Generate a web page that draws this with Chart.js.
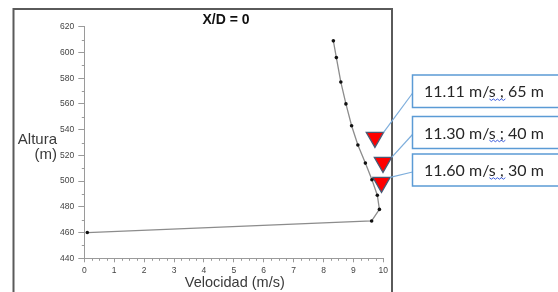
<!DOCTYPE html>
<html>
<head>
<meta charset="utf-8">
<script src="https://cdn.jsdelivr.net/npm/chart.js@4"></script>
<style>
  html, body { margin: 0; padding: 0; background: #fff; }
  #grafico { display: block; }
</style>
</head>
<body>
<canvas id="grafico" width="558" height="292"></canvas>
<script>
// perfil de velocidad
const velocidad = [0.1, 9.61, 9.87, 9.80, 9.62, 9.40, 9.15, 8.94, 8.75, 8.58, 8.43, 8.33];
const altura = [460, 469, 478, 489, 501, 514, 528, 543, 560, 577, 596, 609];

// marcadores (triangulos rojos) y sus etiquetas
const marcaVel = [9.72, 9.99, 9.94];
const marcaAlt = [534, 514.5, 499];
const etiquetas = ['11.11 m/s ; 65 m', '11.30 m/s ; 40 m', '11.60 m/s ; 30 m'];

const ejeX = { min: 0, max: 10, paso: 1, menor: 0.25 };
const ejeY = { min: 440, max: 620, paso: 20, menor: 10 };

const perfil = velocidad.map((v, i) => ({ x: v, y: altura[i] }));
const marcas = marcaVel.map((v, i) => ({ x: v, y: marcaAlt[i] }));

const radioTri = 10;

// cajas de texto a la derecha
const cajas = [
  { top: 75, bottom: 107.5 },
  { top: 116.5, bottom: 148.5 },
  { top: 154, bottom: 186 }
];

const extras = {
  id: 'extras',
  beforeDraw(chart) {
    const c = chart.ctx;
    c.save();
    c.strokeStyle = '#5a5a5a';
    c.lineWidth = 2;
    c.strokeRect(13.5, 9, 378.5, 300);
    c.restore();
  },
  afterDraw(chart) {
    const c = chart.ctx;
    const sx = chart.scales.x, sy = chart.scales.y;
    c.save();

    // ticks menores
    c.strokeStyle = '#9a9a9a';
    c.lineWidth = 1;
    const yb = sy.getPixelForValue(ejeY.min);
    for (let v = ejeX.min; v <= ejeX.max + 1e-9; v += ejeX.menor) {
      if (Math.abs(v - Math.round(v)) < 1e-6) continue;
      const px = Math.round(sx.getPixelForValue(v)) + 0.5;
      c.beginPath(); c.moveTo(px, yb); c.lineTo(px, yb + 2.5); c.stroke();
    }
    const xl = sx.getPixelForValue(ejeX.min);
    for (let v = ejeY.min; v <= ejeY.max; v += ejeY.menor) {
      if (v % ejeY.paso === 0) continue;
      const py = Math.round(sy.getPixelForValue(v)) + 0.5;
      c.beginPath(); c.moveTo(xl, py); c.lineTo(xl - 2.5, py); c.stroke();
    }

    // titulos
    c.fillStyle = '#111';
    c.font = 'bold 14px "Liberation Sans", Arial, sans-serif';
    c.textAlign = 'center';
    c.textBaseline = 'middle';
    c.fillText('X/D = 0', 226, 20);

    c.fillStyle = '#3a3a3a';
    c.font = '14.5px "Liberation Sans", Arial, sans-serif';
    c.fillText('Velocidad (m/s)', (sx.left + sx.right) / 2 + 1, 283);
    c.textAlign = 'right';
    c.font = '15px "Liberation Sans", Arial, sans-serif';
    c.fillText('Altura', 57, 140);
    c.fillText('(m)', 57, 155);

    // cajas, lineas guia y texto
    c.font = '16px Lato, "Open Sans", sans-serif';
    const ancho = c.measureText(etiquetas[0]).width;
    const tam = 16 * 120 / ancho;
    c.font = tam + 'px Lato, "Open Sans", sans-serif';
    cajas.forEach((b, i) => {
      const cx = sx.getPixelForValue(marcaVel[i]);
      const cy = sy.getPixelForValue(marcaAlt[i]);
      const vx = cx + radioTri * Math.sin(Math.PI / 3);
      const vy = cy - radioTri / 2;
      const medio = (b.top + b.bottom) / 2;

      c.strokeStyle = '#7eaedc';
      c.lineWidth = 1.2;
      c.beginPath(); c.moveTo(412.5, medio + 2); c.lineTo(vx, vy); c.stroke();

      c.strokeStyle = '#5b9bd5';
      c.lineWidth = 1.5;
      c.strokeRect(412.5, b.top, 160, b.bottom - b.top);

      c.fillStyle = '#262626';
      c.textAlign = 'left';
      c.textBaseline = 'middle';
      c.fillText(etiquetas[i], 424, medio + 1);

      // subrayado ondulado bajo "s ;"
      const pre = c.measureText(etiquetas[i].slice(0, etiquetas[i].indexOf('s ;'))).width;
      const w = c.measureText('s ;').width;
      const x0 = 424 + pre, yw = medio + 8;
      c.strokeStyle = '#3b5bdb';
      c.lineWidth = 1;
      c.beginPath();
      for (let k = 0; k <= Math.round(w / 2); k++) {
        const px = x0 + k * 2, py = yw + (k % 2 ? 1.2 : -0.3);
        if (k === 0) c.moveTo(px, py); else c.lineTo(px, py);
      }
      c.stroke();
    });
    c.restore();
  }
};

new Chart(document.getElementById('grafico'), {
  type: 'scatter',
  data: {
    datasets: [
      {
        data: perfil,
        showLine: true,
        borderColor: '#8c8c8c',
        borderWidth: 1.3,
        pointRadius: 1.8,
        pointBackgroundColor: '#111',
        pointBorderColor: '#111',
        pointBorderWidth: 0,
        clip: false
      },
      {
        data: marcas,
        showLine: false,
        pointStyle: 'triangle',
        rotation: 180,
        pointRadius: radioTri,
        backgroundColor: '#ff0000',
        borderColor: '#4a5a75',
        borderWidth: 1.3,
        clip: false
      }
    ]
  },
  options: {
    responsive: false,
    animation: false,
    events: [],
    layout: { padding: { left: 0, right: 174.7, top: 26.7, bottom: 0 } },
    plugins: { legend: { display: false }, tooltip: { enabled: false } },
    scales: {
      x: {
        type: 'linear',
        min: ejeX.min, max: ejeX.max,
        afterFit(s) { s.height = 33.7; },
        ticks: { stepSize: ejeX.paso, color: '#444', padding: 3, font: { size: 8.5, family: '"Liberation Sans", Arial' } },
        grid: { drawOnChartArea: false, tickLength: 4, tickColor: '#9a9a9a' },
        border: { color: '#9a9a9a', width: 1 }
      },
      y: {
        type: 'linear',
        min: ejeY.min, max: ejeY.max,
        afterFit(s) { s.width = 84.3; },
        ticks: { stepSize: ejeY.paso, color: '#444', padding: 4, font: { size: 8.5, family: '"Liberation Sans", Arial' } },
        grid: { drawOnChartArea: false, tickLength: 6, tickColor: '#9a9a9a' },
        border: { color: '#9a9a9a', width: 1 }
      }
    }
  },
  plugins: [extras]
});
</script>
</body>
</html>
